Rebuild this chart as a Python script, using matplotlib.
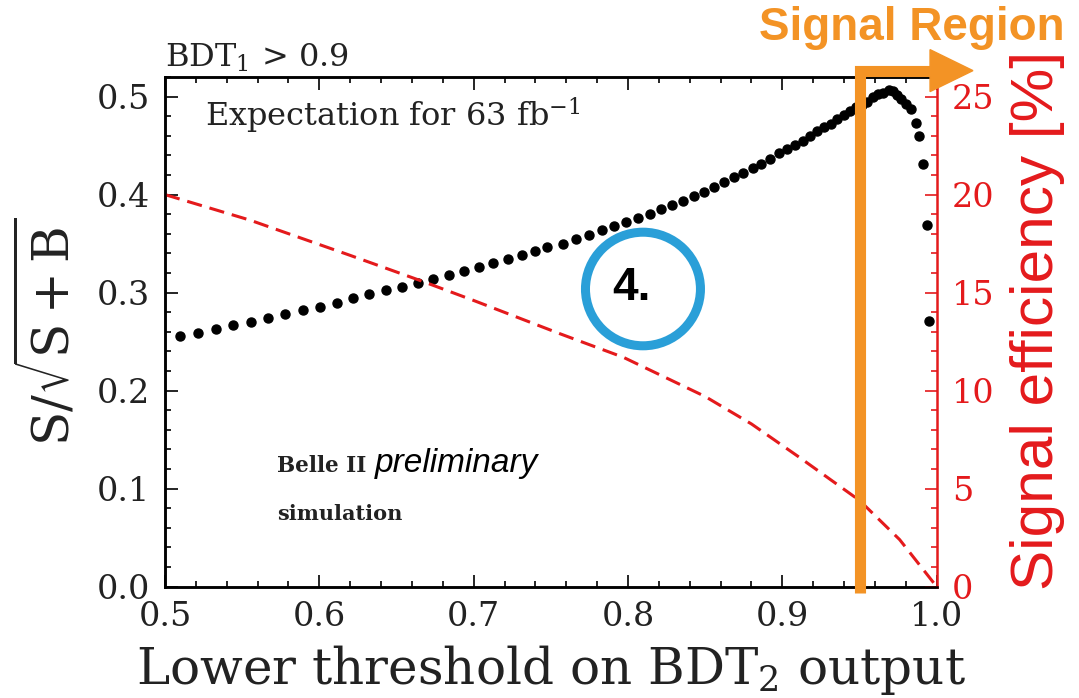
import matplotlib
matplotlib.use("Agg")
import matplotlib.pyplot as plt
from matplotlib.patches import Ellipse, Polygon
from matplotlib.ticker import MultipleLocator

plt.rcParams['font.family'] = 'DejaVu Serif'
plt.rcParams['mathtext.fontset'] = 'dejavuserif'

# S/sqrt(S+B) versus lower BDT2 threshold
thr = [0.5097, 0.5212, 0.5329, 0.5443, 0.5555, 0.5667, 0.5779, 0.5892, 0.6004, 0.6112,
       0.6218, 0.6324, 0.6430, 0.6534, 0.6637, 0.6738, 0.6838, 0.6937, 0.7034, 0.7127,
       0.7222, 0.7311, 0.7399, 0.7478, 0.7577, 0.7663, 0.7747, 0.7829, 0.7911, 0.7989,
       0.8067, 0.8142, 0.8214, 0.8285, 0.8358, 0.8428, 0.8494, 0.8557, 0.8622, 0.8687,
       0.8747, 0.8808, 0.8864, 0.8920, 0.8976, 0.9028, 0.9082, 0.9132, 0.9179, 0.9222,
       0.9270, 0.9313, 0.9356, 0.9399, 0.9438, 0.9477, 0.9513, 0.9550, 0.9585, 0.9622,
       0.9654, 0.9688, 0.9717, 0.9743, 0.9772, 0.9801, 0.9834, 0.9866, 0.9885, 0.9913,
       0.9935, 0.9952]
signif = [0.2560, 0.2593, 0.2628, 0.2668, 0.2705, 0.2746, 0.2786, 0.2821, 0.2857, 0.2898,
          0.2946, 0.2984, 0.3024, 0.3061, 0.3098, 0.3139, 0.3183, 0.3220, 0.3261, 0.3302,
          0.3339, 0.3383, 0.3424, 0.3464, 0.3498, 0.3543, 0.3590, 0.3634, 0.3678, 0.3716,
          0.3762, 0.3807, 0.3854, 0.3892, 0.3939, 0.3986, 0.4031, 0.4075, 0.4125, 0.4176,
          0.4220, 0.4271, 0.4316, 0.4367, 0.4420, 0.4464, 0.4502, 0.4550, 0.4603, 0.4644,
          0.4692, 0.4725, 0.4773, 0.4814, 0.4855, 0.4891, 0.4919, 0.4949, 0.5000, 0.5027,
          0.5041, 0.5066, 0.5061, 0.5020, 0.4975, 0.4924, 0.4873, 0.4729, 0.4593, 0.4312,
          0.3695, 0.2712]

# signal efficiency [%]
eff_thr = [0.500, 0.555, 0.620, 0.666, 0.700, 0.756, 0.797, 0.850, 0.880, 0.911, 0.950, 0.976, 1.000]
eff = [20.0, 18.7, 16.9, 15.6, 14.6, 12.9, 11.7, 9.7, 8.3, 6.6, 4.4, 2.4, 0.0]

sr_cut = 0.95

red = '#E41A1C'
orange = '#F39325'
blue = '#2A9FD8'

fig = plt.figure(figsize=(10.79, 6.98), dpi=100)
ax = fig.add_axes([0.1529, 0.1595, 0.7152, 0.7302])
ax2 = ax.twinx()

ax.plot(thr, signif, 'o', color='black', ms=6.5, zorder=3)
ax2.plot(eff_thr, eff, color=red, lw=2.2, dashes=(5, 2.6))

ax.set_xlim(0.5, 1.0)
ax.set_ylim(0.0, 0.52)
ax2.set_ylim(0, 26)

ax.xaxis.set_major_locator(MultipleLocator(0.1))
ax.xaxis.set_minor_locator(MultipleLocator(0.02))
ax.yaxis.set_major_locator(MultipleLocator(0.1))
ax.yaxis.set_minor_locator(MultipleLocator(0.02))
ax2.yaxis.set_major_locator(MultipleLocator(5))
ax2.yaxis.set_minor_locator(MultipleLocator(1))

ax.tick_params(which='both', direction='in', top=True, right=False, width=1.2, labelsize=24,
               labelcolor='#222222')
ax.tick_params(which='major', length=9)
ax.tick_params(which='minor', length=4.5)
ax.tick_params(axis='y', pad=11)
ax.tick_params(axis='x', pad=10.5)
ax2.tick_params(which='both', direction='in', colors=red, width=1.2, labelsize=24, pad=11)
ax2.tick_params(which='major', length=9)
ax2.tick_params(which='minor', length=4.5)

for s in ax.spines.values():
    s.set_linewidth(1.8)
ax.spines['right'].set_visible(False)
for s in ax2.spines.values():
    s.set_linewidth(1.8)
ax2.spines['right'].set_color(red)

ax.set_xlabel(r'Lower threshold on $\mathrm{BDT}_2$ output', fontsize=36, labelpad=7,
              color='#222222')
ax.set_ylabel(r'$\mathrm{S}/\sqrt{\mathrm{S}+\mathrm{B}}$', fontsize=36, labelpad=12,
              color='#222222')
ax2.set_ylabel('Signal efficiency [%]', fontsize=43.5, color=red, family='Liberation Sans')
ax2.yaxis.set_label_coords(1.095, 0.523)

ax.text(0.0, 1.0196, r'$\mathrm{BDT}_1$ > 0.9', transform=ax.transAxes, fontsize=23,
        color='#222222', va='baseline', ha='left')
ax.text(0.0518, 0.9025, r'Expectation for 63 fb$^{-1}$', transform=ax.transAxes,
        fontsize=23, color='#222222', va='baseline', ha='left')
ax.text(0.1451, 0.225, 'Belle II', transform=ax.transAxes, fontsize=15.5,
        fontweight='bold', color='#222222', va='baseline')
ax.text(0.2721, 0.225, 'preliminary', transform=ax.transAxes, fontsize=24,
        style='italic', family='Liberation Sans', color='black', va='baseline')
ax.text(0.1451, 0.1309, 'simulation', transform=ax.transAxes, fontsize=15,
        fontweight='bold', color='#222222', va='baseline')

# numbered marker
ax2.add_patch(Ellipse((0.8097, 0.3037), 0.0745, 0.1159, transform=ax.transData,
                      fill=False, ec=blue, lw=6.5, zorder=5, clip_on=False))
ax.text(0.6039, 0.586, '4.', transform=ax.transAxes, fontsize=33, fontweight='bold',
        family='Liberation Sans', ha='center', va='center', zorder=6)

# signal region marker
ax2.plot([sr_cut, sr_cut, 0.9957], [-0.006, 0.5265, 0.5265], color=orange, lw=8,
         solid_joinstyle='miter', solid_capstyle='butt', transform=ax.transData,
         clip_on=False, zorder=6)
ax2.add_patch(Polygon([[0.9957, 0.5265 + 0.0214], [1.0235, 0.5265], [0.9957, 0.5265 - 0.0214]],
                      closed=True, color=orange, transform=ax.transData, clip_on=False, zorder=6))
fig.text(0.8452, 0.9599, 'Signal Region', fontsize=33, fontweight='bold', color=orange,
         family='Liberation Sans', ha='center', va='center')

fig.savefig('out.png', dpi=100)
